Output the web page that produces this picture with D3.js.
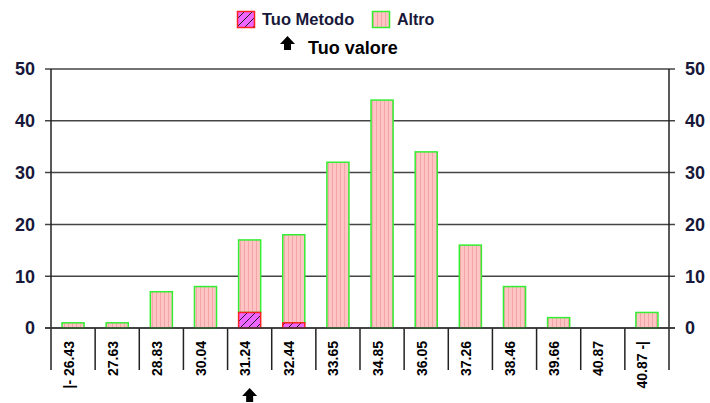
<!DOCTYPE html>
<html>
<head>
<meta charset="utf-8">
<script src="https://cdn.jsdelivr.net/npm/d3@7"></script>
<style>
  body { margin: 0; background: #fff; }
  text { font-family: "Liberation Sans", Arial, sans-serif; }
</style>
</head>
<body>
<div id="wrapper"></div>
<script>
// data
const categories = ["|- 26.43", "27.63", "28.83", "30.04", "31.24", "32.44", "33.65",
  "34.85", "36.05", "37.26", "38.46", "39.66", "40.87", "40.87 -|"]
const tuoMetodo = [0, 0, 0, 0, 3, 1, 0, 0, 0, 0, 0, 0, 0, 0]
const altro     = [1, 1, 7, 8, 14, 17, 32, 44, 34, 16, 8, 2, 0, 3]
const yTicks = [0, 10, 20, 30, 40, 50]
const tuoValoreIndex = 4

const dimensions = {
  width: 710,
  height: 403,
  margin: { top: 69, right: 41, bottom: 75, left: 51 },
}
dimensions.boundedWidth = dimensions.width - dimensions.margin.left - dimensions.margin.right
dimensions.boundedHeight = dimensions.height - dimensions.margin.top - dimensions.margin.bottom

const xScale = d3.scaleBand()
  .domain(categories)
  .range([0, dimensions.boundedWidth])

const yScale = d3.scaleLinear()
  .domain([0, 50])
  .range([dimensions.boundedHeight, 0])

const svg = d3.select("#wrapper")
  .append("svg")
    .attr("width", dimensions.width)
    .attr("height", dimensions.height)

// fill patterns
const defs = svg.append("defs")
const pPink = defs.append("pattern")
  .attr("id", "pink").attr("patternUnits", "userSpaceOnUse")
  .attr("width", 4).attr("height", 4)
pPink.append("rect").attr("width", 4).attr("height", 4).attr("fill", "#ffc4c4")
pPink.append("rect").attr("x", 1).attr("width", 1).attr("height", 4).attr("fill", "#f4a6a6")

const pMag = defs.append("pattern")
  .attr("id", "mag").attr("patternUnits", "userSpaceOnUse")
  .attr("width", 8).attr("height", 8)
pMag.append("rect").attr("width", 8).attr("height", 8).attr("fill", "#ee66ff")
pMag.append("path").attr("d", "M0,8 L8,0 M-2,2 L2,-2 M6,10 L10,6")
  .attr("stroke", "#222").attr("stroke-width", 1)

const bounds = svg.append("g")
  .attr("transform", `translate(${dimensions.margin.left},${dimensions.margin.top})`)

// gridlines
bounds.append("g")
  .selectAll("line")
  .data(yTicks)
  .join("line")
    .attr("x1", -6).attr("x2", dimensions.boundedWidth + 6)
    .attr("y1", d => yScale(d)).attr("y2", d => yScale(d))
    .attr("stroke", "#444").attr("stroke-width", 1.5)

// y labels both sides
const labelColor = "#18183a"
bounds.append("g").selectAll("text").data(yTicks).join("text")
  .attr("x", -16).attr("y", d => yScale(d)).attr("dy", "0.36em")
  .attr("text-anchor", "end")
  .attr("font-size", 18).attr("font-weight", "bold").attr("fill", labelColor)
  .text(d => d)
bounds.append("g").selectAll("text").data(yTicks).join("text")
  .attr("x", dimensions.boundedWidth + 16).attr("y", d => yScale(d)).attr("dy", "0.36em")
  .attr("text-anchor", "start")
  .attr("font-size", 18).attr("font-weight", "bold").attr("fill", labelColor)
  .text(d => d)

// vertical axis lines
bounds.append("line")
  .attr("x1", 0).attr("x2", 0).attr("y1", 0).attr("y2", dimensions.boundedHeight + 42)
  .attr("stroke", "#222").attr("stroke-width", 1.5)
bounds.append("line")
  .attr("x1", dimensions.boundedWidth).attr("x2", dimensions.boundedWidth)
  .attr("y1", 0).attr("y2", dimensions.boundedHeight + 42)
  .attr("stroke", "#222").attr("stroke-width", 1.5)

// category separators
bounds.append("g").selectAll("line")
  .data(categories.slice(1))
  .join("line")
    .attr("x1", d => xScale(d)).attr("x2", d => xScale(d))
    .attr("y1", dimensions.boundedHeight).attr("y2", dimensions.boundedHeight + 42)
    .attr("stroke", "#222").attr("stroke-width", 1.5)

// category labels
bounds.append("g").selectAll("text")
  .data(categories)
  .join("text")
    .attr("transform", d => `translate(${xScale(d) + xScale.bandwidth() / 2 + 0.5},${dimensions.boundedHeight + 13}) rotate(-90)`)
    .attr("text-anchor", "end")
    .attr("font-size", 14).attr("font-weight", "bold").attr("fill", "#000")
    .text(d => d)

// bars
const barW = xScale.bandwidth() / 2
const barData = categories.map((c, i) => ({ c, m: tuoMetodo[i], a: altro[i] }))

bounds.append("g").selectAll("rect")
  .data(barData.filter(d => d.a > 0))
  .join("rect")
    .attr("x", d => xScale(d.c) + xScale.bandwidth() / 4)
    .attr("width", barW)
    .attr("y", d => yScale(d.m + d.a))
    .attr("height", d => yScale(d.m) - yScale(d.m + d.a))
    .attr("fill", "url(#pink)")
    .attr("stroke", "#33ee33").attr("stroke-width", 1.5)

bounds.append("g").selectAll("rect")
  .data(barData.filter(d => d.m > 0))
  .join("rect")
    .attr("x", d => xScale(d.c) + xScale.bandwidth() / 4)
    .attr("width", barW)
    .attr("y", d => yScale(d.m))
    .attr("height", d => yScale(0) - yScale(d.m))
    .attr("fill", "url(#mag)")
    .attr("stroke", "#ff2020").attr("stroke-width", 1.5)

// zero line on top
bounds.append("line")
  .attr("x1", -6).attr("x2", dimensions.boundedWidth + 6)
  .attr("y1", yScale(0)).attr("y2", yScale(0))
  .attr("stroke", "#333").attr("stroke-width", 1.5)

// arrow path
const arrow = "M0,-7 L7.5,1 L3.5,1 L3.5,7 L-3.5,7 L-3.5,1 L-7.5,1 Z"

// arrow under "tuo valore" category
bounds.append("path")
  .attr("d", arrow)
  .attr("transform", `translate(${xScale(categories[tuoValoreIndex]) + xScale.bandwidth() / 2},${dimensions.boundedHeight + 67})`)
  .attr("fill", "#000")

// legend
const legend = svg.append("g")
legend.append("rect").attr("x", 237.5).attr("y", 11.5).attr("width", 17).attr("height", 16)
  .attr("fill", "url(#mag)").attr("stroke", "#ff2020").attr("stroke-width", 1.5)
legend.append("text").attr("x", 262).attr("y", 25)
  .attr("font-size", 16.5).attr("font-weight", "bold").attr("fill", labelColor)
  .text("Tuo Metodo")
legend.append("rect").attr("x", 372.5).attr("y", 11.5).attr("width", 17).attr("height", 16)
  .attr("fill", "url(#pink)").attr("stroke", "#33ee33").attr("stroke-width", 1.5)
legend.append("text").attr("x", 397).attr("y", 25)
  .attr("font-size", 16).attr("font-weight", "bold").attr("fill", labelColor)
  .text("Altro")
legend.append("path").attr("d", arrow)
  .attr("transform", "translate(287.5,43)").attr("fill", "#000")
legend.append("text").attr("x", 308).attr("y", 54)
  .attr("font-size", 18).attr("font-weight", "bold").attr("fill", "#000")
  .text("Tuo valore")
</script>
</body>
</html>
